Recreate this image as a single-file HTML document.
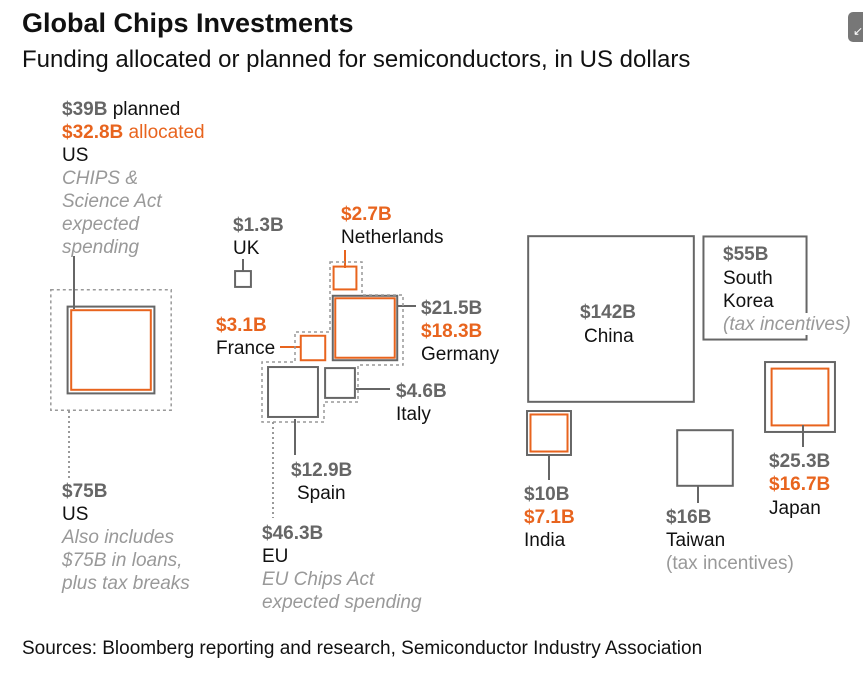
<!DOCTYPE html>
<html><head><meta charset="utf-8"><style>
html,body{margin:0;padding:0;background:#fff;}
svg{display:block;font-family:"Liberation Sans",Arial,sans-serif;}
.g{fill:#666;font-weight:bold;font-size:19px}
.o{fill:#e8641e;font-weight:bold;font-size:19px}
.on{fill:#e8641e;font-size:19px}
.k{fill:#111;font-size:19px}
.i{fill:#999;font-size:19px;font-style:italic}
.n{fill:#999;font-size:19px}
</style></head><body>
<svg id="c" width="863" height="673" viewBox="0 0 863 673">
<text x="22" y="32" font-size="27" font-weight="bold" fill="#111">Global Chips Investments</text>
<text x="22" y="67" font-size="24" fill="#111">Funding allocated or planned for semiconductors, in US dollars</text>
<rect x="848" y="12" width="24" height="30" rx="5" fill="#777"/>
<text x="853" y="35" font-size="12" fill="#fff">↙</text>
<g id="marks"></g>
<g>
<text x="62" y="115"><tspan class="g">$39B</tspan><tspan class="k" fill="#333"> planned</tspan></text>
<text x="62" y="138"><tspan class="o">$32.8B</tspan><tspan class="on"> allocated</tspan></text>
<text x="62" y="161" class="k">US</text>
<text x="62" y="184" class="i">CHIPS &amp;</text>
<text x="62" y="207" class="i">Science Act</text>
<text x="62" y="230" class="i">expected</text>
<text x="62" y="253" class="i">spending</text>
<text x="62" y="497" class="g">$75B</text>
<text x="62" y="520" class="k">US</text>
<text x="62" y="543" class="i">Also includes</text>
<text x="62" y="566" class="i">$75B in loans,</text>
<text x="62" y="589" class="i">plus tax breaks</text>
<text x="233" y="231" class="g">$1.3B</text>
<text x="233" y="254" class="k">UK</text>
<text x="341" y="220" class="o">$2.7B</text>
<text x="341" y="243" class="k">Netherlands</text>
<text x="421" y="314" class="g">$21.5B</text>
<text x="421" y="337" class="o">$18.3B</text>
<text x="421" y="360" class="k">Germany</text>
<text x="216" y="331" class="o">$3.1B</text>
<text x="216" y="354" class="k">France</text>
<text x="396" y="397" class="g">$4.6B</text>
<text x="396" y="420" class="k">Italy</text>
<text x="291" y="476" class="g">$12.9B</text>
<text x="297" y="499" class="k">Spain</text>
<text x="262" y="539" class="g">$46.3B</text>
<text x="262" y="562" class="k">EU</text>
<text x="262" y="585" class="i">EU Chips Act</text>
<text x="262" y="608" class="i">expected spending</text>
<text x="580" y="318" class="g">$142B</text>
<text x="584" y="342" class="k">China</text>
<text x="723" y="260" class="g">$55B</text>
<text x="723" y="284" class="k">South</text>
<text x="723" y="307" class="k">Korea</text>
<rect x="722" y="313" width="138" height="22" fill="#fff"/>
<text x="723" y="330" class="i">(tax incentives)</text>
<text x="524" y="500" class="g">$10B</text>
<text x="524" y="523" class="o">$7.1B</text>
<text x="524" y="546" class="k">India</text>
<text x="666" y="523" class="g">$16B</text>
<text x="666" y="546" class="k">Taiwan</text>
<text x="666" y="569" class="n">(tax incentives)</text>
<text x="769" y="467" class="g">$25.3B</text>
<text x="769" y="490" class="o">$16.7B</text>
<text x="769" y="514" class="k">Japan</text>
</g>
<g stroke="#666" stroke-width="2" fill="none">
<line x1="74" y1="256" x2="74" y2="309"/>
<line x1="243" y1="259" x2="243" y2="272"/>
<line x1="345" y1="250" x2="345" y2="268" stroke="#e8641e"/>
<line x1="398" y1="306" x2="416" y2="306"/>
<line x1="280" y1="347" x2="301" y2="347" stroke="#e8641e"/>
<line x1="356" y1="389" x2="390" y2="389"/>
<line x1="295" y1="419" x2="295" y2="455"/>
<line x1="549" y1="455" x2="549" y2="480"/>
<line x1="698" y1="486" x2="698" y2="503"/>
<line x1="803" y1="425" x2="803" y2="447"/>
<line x1="69" y1="411" x2="69" y2="478" stroke="#999" stroke-dasharray="2,3"/>
<line x1="273" y1="422" x2="273" y2="518" stroke="#999" stroke-dasharray="2,3"/>
</g>
<path d="M330,262H362V295H403V365H358V402H324V422H262V362H295V332H330Z" fill="none" stroke="#999" stroke-width="1.5" stroke-dasharray="3,3"/>
<text x="22" y="654" font-size="19" fill="#111">Sources: Bloomberg reporting and research, Semiconductor Industry Association</text>
</svg>
<script>
const countries = ["US","UK","Netherlands","Germany","France","Spain","Italy","China","South Korea","India","Taiwan","Japan"];
const planned   = [39,1.3,null,21.5,null,12.9,4.6,142,55,10,16,25.3];
const allocated = [32.8,null,2.7,18.3,3.1,null,null,null,null,7.1,null,16.7];
const totalDotted = [75,null,null,null,null,null,null,null,null,null,null,null];
const centers = [[111,350],[243,279],[345,278],[365,328],[313,348],[293,392],[340,383],[611,319],[755,288],[549,433],[705,458],[800,397]];
const K = 13.9;
function side(v){ return Math.sqrt(v)*K; }
const g = document.getElementById('marks');
const NS = 'http://www.w3.org/2000/svg';
function sq(v, c, color, w, dash, name){
  const s = side(v);
  const r = document.createElementNS(NS,'rect');
  r.setAttribute('x', c[0]-s/2); r.setAttribute('y', c[1]-s/2);
  r.setAttribute('width', s); r.setAttribute('height', s);
  r.setAttribute('fill','none'); r.setAttribute('stroke', color); r.setAttribute('stroke-width', w);
  if (dash) r.setAttribute('stroke-dasharray', dash);
  
  
  g.appendChild(r);
}
countries.forEach((c,i)=>{
  const slug = c.toLowerCase().replace(/ /g,'-');
  if (totalDotted[i]!=null) sq(totalDotted[i], centers[i], '#999', 1.5, '3,3', slug+'-total-square');
  if (planned[i]!=null) sq(planned[i], centers[i], '#666', 2, null, slug+'-planned-square');
  if (allocated[i]!=null) sq(allocated[i], centers[i], '#e8641e', 2, null, slug+'-allocated-square');
});
</script>
</body></html>
